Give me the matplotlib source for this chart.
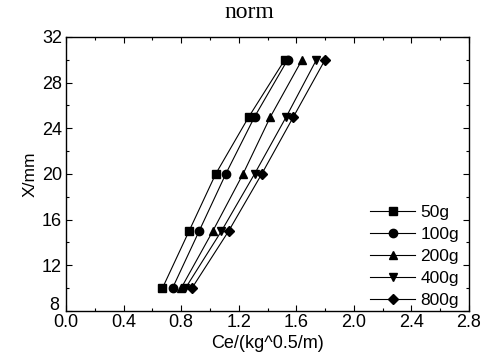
import matplotlib
matplotlib.use("Agg")
import matplotlib.pyplot as plt
from matplotlib.ticker import MultipleLocator

# distancia X (mm) fronte a Ce para cada masa
x_mm = [10, 15, 20, 25, 30]
ce_50g = [0.67, 0.855, 1.04, 1.27, 1.52]
ce_100g = [0.74, 0.925, 1.11, 1.31, 1.54]
ce_200g = [0.80, 1.02, 1.23, 1.42, 1.64]
ce_400g = [0.83, 1.08, 1.31, 1.53, 1.74]
ce_800g = [0.875, 1.13, 1.36, 1.58, 1.80]

series = [
    ("50g", ce_50g, "s"),
    ("100g", ce_100g, "o"),
    ("200g", ce_200g, "^"),
    ("400g", ce_400g, "v"),
    ("800g", ce_800g, "D"),
]

Y_MIN, Y_MAX = 8, 32

plt.rcParams['font.family'] = ['Liberation Sans', 'DejaVu Sans']

fig = plt.figure(figsize=(4.82, 3.62), dpi=100)
ax = fig.add_axes([0.137, 0.141, 0.836, 0.757])

for nome, ce, mk in series:
    ax.plot(ce, x_mm, color='black', linewidth=0.8, marker=mk,
            markersize=6 if mk != "D" else 5, label=nome)

ax.set_xlim(0, 2.8)
ax.set_ylim(Y_MIN, Y_MAX)
ax.xaxis.set_major_locator(MultipleLocator(0.4))
ax.xaxis.set_minor_locator(MultipleLocator(0.2))
ax.yaxis.set_major_locator(MultipleLocator(4))
ax.yaxis.set_minor_locator(MultipleLocator(2))
ax.xaxis.set_major_formatter(plt.FuncFormatter(lambda v, p: f"{v:.1f}"))
# o "8" vai aparte, algo máis arriba, para non pisar o "0.0"
ax.yaxis.set_major_formatter(
    plt.FuncFormatter(lambda v, p: "" if v == Y_MIN else f"{v:g}"))
ax.annotate(f"{Y_MIN:g}", xy=(0, Y_MIN), xycoords=('axes fraction', 'data'),
            xytext=(-5, 4), textcoords='offset points',
            ha='right', va='center', fontsize=13)

ax.tick_params(which='both', direction='in', top=True, right=True,
               labelsize=13, width=0.8)
ax.tick_params(which='major', length=4)
ax.tick_params(which='minor', length=2)
ax.tick_params(axis='x', pad=2)
ax.tick_params(axis='y', pad=3)
for s in ax.spines.values():
    s.set_linewidth(1.0)

ax.set_xlabel("Ce/(kg^0.5/m)", fontsize=13, labelpad=3)
ax.set_ylabel("X/mm", fontsize=12.5, labelpad=3)
fig.text(249 / 482, 1 - 13 / 362, "norm", fontsize=17,
         family='Liberation Serif', ha='center', va='center')

ax.legend(loc='lower right', frameon=False, fontsize=12.5, handlelength=2.6,
          handletextpad=0.3, labelspacing=0.4, borderpad=0.3,
          bbox_to_anchor=(1.01, -0.04))

fig.savefig("out.png", dpi=100)
